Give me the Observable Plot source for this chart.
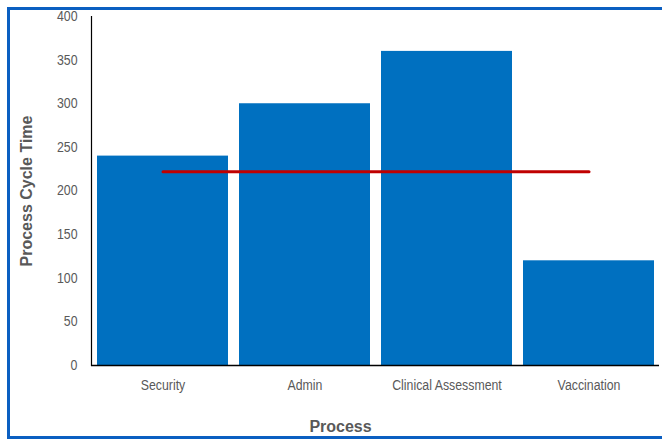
<!DOCTYPE html>
<html>
<head>
<meta charset="utf-8">
<script src="https://cdn.jsdelivr.net/npm/d3@7"></script>
<script src="https://cdn.jsdelivr.net/npm/@observablehq/plot@0.6"></script>
<style>
  html, body { margin: 0; padding: 0; background: #fff; }
  #wrap { position: relative; width: 662px; height: 439px; overflow: hidden; }
  #frame { position: absolute; left: 7px; top: 7px; width: 680px; height: 426px; border: 3px solid #0b5fc1; pointer-events: none; }
  svg text { fill: #595959; }
</style>
</head>
<body>
<div id="wrap"><div id="frame"></div></div>
<script>
const processes = ["Security", "Admin", "Clinical Assessment", "Vaccination"];
const cycleTimes = [240, 300, 360, 120];
const targetValue = 222;
const yTicks = [0, 50, 100, 150, 200, 250, 300, 350, 400];

const bars = processes.map((p, i) => ({process: p, value: cycleTimes[i]}));
const target = [processes[0], processes[processes.length - 1]].map(p => ({process: p, value: targetValue}));

const chart = Plot.plot({
  width: 662,
  height: 439,
  marginLeft: 91,
  marginRight: 3,
  marginTop: 16,
  marginBottom: 74,
  style: {fontFamily: "'Liberation Sans', Arial, sans-serif", fontSize: "14px", color: "#595959", background: "transparent"},
  x: {domain: processes, paddingInner: 0.08, paddingOuter: 0.04, align: 0.5},
  y: {domain: [0, 400]},
  marks: [
    Plot.barY(bars, {x: "process", y: "value", fill: "#0070c0"}),
    Plot.frame({anchor: "left", stroke: "#000", strokeWidth: 1.2}),
    Plot.ruleY([0], {stroke: "#000", strokeWidth: 1.5}),
    Plot.line(target, {x: "process", y: "value", stroke: "#c00000", strokeWidth: 3}),
    Plot.axisY({ticks: yTicks, tickSize: 0, tickPadding: 14, label: "Process Cycle Time", labelAnchor: "center", labelArrow: "none", labelOffset: 71, fontSize: 14}),
    Plot.axisX({tickSize: 0, tickPadding: 15, label: "Process", labelAnchor: "center", labelArrow: "none", labelOffset: 66, fontSize: 14})
  ]
});
document.getElementById("wrap").prepend(chart);
// bold axis titles in regular-width font
chart.querySelectorAll("g[aria-label='y-axis label'] text, g[aria-label='x-axis label'] text").forEach(t => {
  t.style.fontWeight = "bold";
  t.style.fontSize = "16px";
});
// x title sits a little left of the plot centre in the original
const xl = chart.querySelector("g[aria-label='x-axis label']");
if (xl) xl.setAttribute("transform", "translate(-35,0) " + (xl.getAttribute("transform") || ""));
// narrow the tick labels (Arial Narrow look)
chart.querySelectorAll("g[aria-label='y-axis tick label'] text, g[aria-label='x-axis tick label'] text").forEach(t => {
  const w = t.getComputedTextLength();
  t.setAttribute("textLength", (w * 0.88).toFixed(1));
  t.setAttribute("lengthAdjust", "spacingAndGlyphs");
});
</script>
</body>
</html>
